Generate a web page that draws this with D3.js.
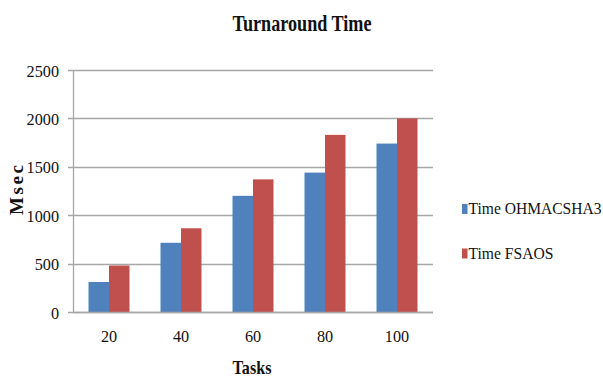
<!DOCTYPE html>
<html>
<head>
<meta charset="utf-8">
<script src="https://cdn.jsdelivr.net/npm/d3@7"></script>
<style>
  html, body { margin: 0; padding: 0; background: #fff; }
  svg { display: block; }
  svg text { font-family: "Liberation Serif", "Times New Roman", serif !important; fill: #111; }
</style>
</head>
<body>
<svg id="chart" width="603" height="376"></svg>
<script>
// Turnaround time per number of tasks
const tasks = ["20", "40", "60", "80", "100"];
const seriesNames = ["Time OHMACSHA3", "Time FSAOS"];
const ohmacsha3 = [310, 715, 1200, 1440, 1740];
const fsaos = [480, 865, 1370, 1830, 2000];
const yTicks = [0, 500, 1000, 1500, 2000, 2500];
const colors = ["#4F81BD", "#C0504D"];

const svg = d3.select("#chart");
const m = { left: 73, right: 433, top: 70, bottom: 312 };

const x = d3.scaleBand().domain(tasks).range([m.left, m.right]);
const y = d3.scaleLinear().domain([0, 2500]).range([m.bottom, m.top]);
const gridColor = "#a6a6a6";

// gridlines with short outer ticks
svg.append("g")
  .selectAll("line")
  .data(yTicks)
  .join("line")
  .attr("x1", m.left - 5).attr("x2", m.right)
  .attr("y1", d => Math.round(y(d)) + 0.5).attr("y2", d => Math.round(y(d)) + 0.5)
  .attr("stroke", gridColor).attr("stroke-width", 1.3);

// y axis line
svg.append("line")
  .attr("x1", m.left + 0.5).attr("x2", m.left + 0.5)
  .attr("y1", m.top).attr("y2", m.bottom + 0.5)
  .attr("stroke", gridColor).attr("stroke-width", 1.3);

// condensed serif numbers
function styleTicks(sel) {
  sel.selectAll("text")
    .attr("font-size", 17)
    .attr("fill", "#222")
    .attr("lengthAdjust", "spacingAndGlyphs")
    .attr("textLength", function () { return this.textContent.length * 8.1; });
}

const yAxis = d3.axisLeft(y).tickValues(yTicks).tickFormat(d3.format("d")).tickSize(0).tickPadding(14);
const yg = svg.append("g").attr("transform", `translate(${m.left},0)`).call(yAxis);
yg.select(".domain").remove();
yg.selectAll("text").attr("dy", "0.36em");
styleTicks(yg);

const xAxis = d3.axisBottom(x).tickSize(0).tickPadding(18);
const xg = svg.append("g").attr("transform", `translate(0,${m.bottom})`).call(xAxis);
xg.select(".domain").remove();
styleTicks(xg);

// clustered bars
const groupW = 41;
const barW = groupW / 2;
const rows = tasks.map((t, i) => ({ task: t, values: [ohmacsha3[i], fsaos[i]] }));
const groups = svg.append("g").selectAll("g")
  .data(rows).join("g")
  .attr("transform", d => `translate(${x(d.task) + x.bandwidth() / 2 - groupW / 2},0)`);
groups.selectAll("rect")
  .data(d => d.values.map((v, k) => ({ v, k })))
  .join("rect")
  .attr("x", d => d.k * barW)
  .attr("width", barW)
  .attr("y", d => y(d.v))
  .attr("height", d => y(0) - y(d.v))
  .attr("fill", d => colors[d.k]);

// baseline drawn over the bars
svg.append("line")
  .attr("x1", m.left).attr("x2", m.right)
  .attr("y1", Math.round(y(0)) + 0.5).attr("y2", Math.round(y(0)) + 0.5)
  .attr("stroke", gridColor).attr("stroke-width", 1.3);

// title
svg.append("text")
  .attr("x", 302).attr("y", 31)
  .attr("text-anchor", "middle")
  .attr("font-size", 24).attr("font-weight", "bold")
  .attr("lengthAdjust", "spacingAndGlyphs").attr("textLength", 139)
  .text("Turnaround Time");

// axis titles
svg.append("text")
  .attr("transform", "translate(23,190) rotate(-90)")
  .attr("text-anchor", "middle")
  .attr("font-size", 19).attr("font-weight", "bold")
  .attr("textLength", 50)
  .text("Msec");

svg.append("text")
  .attr("x", 252).attr("y", 374)
  .attr("text-anchor", "middle")
  .attr("font-size", 19).attr("font-weight", "bold")
  .attr("lengthAdjust", "spacingAndGlyphs").attr("textLength", 39)
  .text("Tasks");

// legend
const legendWidths = [133, 85];
const legend = svg.append("g").selectAll("g")
  .data(seriesNames).join("g")
  .attr("transform", (d, i) => `translate(462,${209 + i * 44.5})`);
legend.append("rect").attr("x", 0).attr("y", -5).attr("width", 5.5).attr("height", 10)
  .attr("fill", (d, i) => colors[i]);
legend.append("text").attr("x", 6.5).attr("y", 5)
  .attr("font-size", 17).attr("fill", "#222")
  .attr("lengthAdjust", "spacingAndGlyphs")
  .attr("textLength", (d, i) => legendWidths[i])
  .text(d => d);
</script>
</body>
</html>
